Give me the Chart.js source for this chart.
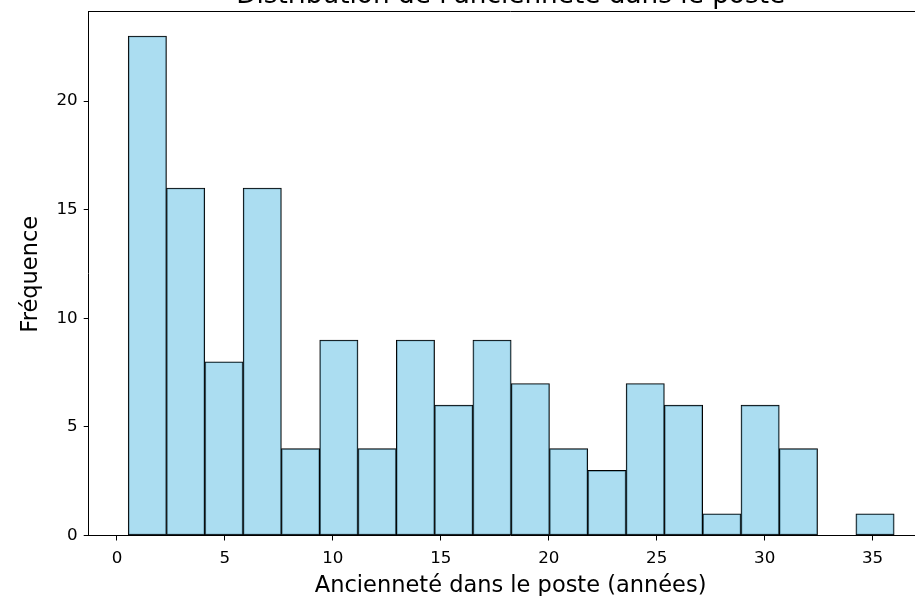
<!DOCTYPE html>
<html>
<head>
<meta charset="utf-8">
<script src="https://cdn.jsdelivr.net/npm/chart.js@4.4.1/dist/chart.umd.min.js"></script>
<style>
  html, body { margin: 0; padding: 0; background: #fff; overflow: hidden; }
  #wrap { width: 915px; height: 596px; overflow: hidden; position: relative; }
  canvas { display: block; }
</style>
</head>
<body>
<div id="wrap"><canvas id="c" width="945" height="596"></canvas></div>
<script>
// ---- Data ----
const titleText = "Distribution de l'ancienneté dans le poste";
const xLabel = "Ancienneté dans le poste (années)";
const yLabel = "Fréquence";
const binStart = 0.52;      // left edge of first bin (years)
const binWidth = 1.774;     // width of each bin (years)
const counts = [23, 16, 8, 16, 4, 9, 4, 9, 6, 9, 7, 4, 3, 7, 6, 1, 6, 4, 0, 1];
const xTicks = [0, 5, 10, 15, 20, 25, 30, 35];
const yTicks = [0, 5, 10, 15, 20];

const FONT = "'DejaVu Sans', 'Liberation Sans', sans-serif";

const points = counts.map((c, i) => ({ x: binStart + binWidth * (i + 0.5), y: c }));

const textPlugin = {
  id: 'texts',
  afterDraw(chart) {
    const { ctx, chartArea: a } = chart;
    ctx.save();
    // top & right spines
    ctx.strokeStyle = '#000';
    ctx.lineWidth = 1;
    ctx.beginPath();
    ctx.moveTo(a.left, Math.round(a.top) + 0.5);
    ctx.lineTo(a.right, Math.round(a.top) + 0.5);
    ctx.moveTo(Math.round(a.right) + 0.5, a.top);
    ctx.lineTo(Math.round(a.right) + 0.5, a.bottom);
    ctx.stroke();

    const cx = (a.left + a.right) / 2;
    ctx.fillStyle = '#000';
    ctx.textAlign = 'center';
    ctx.textBaseline = 'alphabetic';
    // title (partially cut off at top, as in reference)
    ctx.font = '26.3px ' + FONT;
    ctx.fillText(titleText, cx, 2.5);
    // x label
    ctx.font = '22.5px ' + FONT;
    ctx.fillText(xLabel, cx, 591.5);
    // y label
    ctx.translate(36.5, (a.top + a.bottom) / 2 + 1);
    ctx.rotate(-Math.PI / 2);
    ctx.fillText(yLabel, 0, 0);
    ctx.restore();
  }
};

new Chart(document.getElementById('c'), {
  type: 'bar',
  data: {
    datasets: [{
      data: points,
      backgroundColor: 'rgba(135, 206, 235, 0.7)',
      borderColor: '#000',
      borderWidth: 1,
      borderSkipped: false,
      barPercentage: 1.0,
      categoryPercentage: 1.0
    }]
  },
  options: {
    responsive: false,
    devicePixelRatio: 1,
    animation: false,
    layout: { padding: { top: 11, right: 12.4, left: 0, bottom: 0 } },
    plugins: { legend: { display: false }, tooltip: { enabled: false }, title: { display: false } },
    scales: {
      x: {
        type: 'linear',
        min: -1.31,
        max: 37.78,
        offset: false,
        afterFit(scale) { scale.height = 60.5; scale.paddingLeft = 0; scale.paddingRight = 0; },
        afterBuildTicks(scale) { scale.ticks = xTicks.map(v => ({ value: v })); },
        grid: {
          offset: false,
          drawOnChartArea: false,
          drawTicks: true,
          tickLength: 5,
          tickColor: '#000',
          tickWidth: 1
        },
        border: { display: true, color: '#000', width: 1 },
        ticks: {
          color: '#000',
          font: { family: FONT, size: 16.7 },
          padding: 8,
          maxRotation: 0,
          autoSkip: false
        }
      },
      y: {
        type: 'linear',
        min: 0,
        max: 24.15,
        afterFit(scale) { scale.width = 88.7; scale.paddingTop = 0; scale.paddingBottom = 0; },
        afterBuildTicks(scale) { scale.ticks = yTicks.map(v => ({ value: v })); },
        grid: {
          drawOnChartArea: false,
          drawTicks: true,
          tickLength: 5,
          tickColor: '#000',
          tickWidth: 1
        },
        border: { display: true, color: '#000', width: 1 },
        ticks: {
          color: '#000',
          font: { family: FONT, size: 16.7 },
          padding: 6,
          autoSkip: false
        }
      }
    }
  },
  plugins: [textPlugin]
});
</script>
</body>
</html>
